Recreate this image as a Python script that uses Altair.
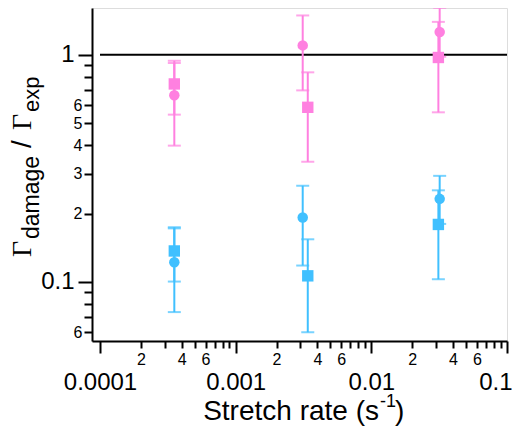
import altair as alt
import pandas as pd

# ---- data ----
rate_circle = [3.53e-4, 3.12e-3, 0.0319]
rate_square = [3.53e-4, 3.40e-3, 0.0312]

pink_circle = [0.663, 1.10, 1.26]
pink_circle_lo = [0.545, 0.697, 0.98]
pink_circle_hi = [0.92, 1.49, 1.61]
pink_square = [0.744, 0.587, 0.973]
pink_square_lo = [0.398, 0.338, 0.558]
pink_square_hi = [0.941, 0.837, 1.396]

blue_circle = [0.122, 0.192, 0.232]
blue_circle_lo = [0.1003, 0.118, 0.18]
blue_circle_hi = [0.172, 0.265, 0.293]
blue_square = [0.1368, 0.1063, 0.179]
blue_square_lo = [0.0736, 0.060, 0.1027]
blue_square_hi = [0.174, 0.154, 0.253]

x_ticks = [m * 10.0 ** e for e in (-4, -3, -2) for m in range(1, 10)] + [0.1]
y_ticks = [0.06, 0.07, 0.08, 0.09, 0.1, 0.2, 0.3, 0.4, 0.5, 0.6, 0.7, 0.8, 0.9, 1.0]
ref_line_x = [1e-4, 0.1]
ref_line_y = [1.0]

PINK = "#FF80E0"
BLUE = "#40C0FF"

rows = []
for color, shape, xs, v, lo, hi in [
    (PINK, "circle", rate_circle, pink_circle, pink_circle_lo, pink_circle_hi),
    (PINK, "square", rate_square, pink_square, pink_square_lo, pink_square_hi),
    (BLUE, "circle", rate_circle, blue_circle, blue_circle_lo, blue_circle_hi),
    (BLUE, "square", rate_square, blue_square, blue_square_lo, blue_square_hi),
]:
    for x, a, b, c in zip(xs, v, lo, hi):
        rows.append({"color": color, "shape": shape, "rate": x, "val": a, "lo": b, "hi": c})
df = pd.DataFrame(rows)

XD = [8.73e-5, 0.1]
YD = [0.0549, 1.607]

major_test = "abs(log(datum.value)/LN10 - round(log(datum.value)/LN10)) < 0.001"
mant = "round(datum.value / pow(10, floor(log(datum.value)/LN10 + 1e-9)))"

x_label_expr = (
    f"({major_test}) ? format(datum.value, '~g') : "
    f"(({mant}) == 2 || ({mant}) == 4 || ({mant}) == 6 ? '' + ({mant}) : '')"
)
y_label_expr = (
    f"({major_test}) ? format(datum.value, '~g') : "
    f"(({mant}) <= 6 ? '' + ({mant}) : '')"
)

x_axis = alt.Axis(
    values=x_ticks, labelExpr=x_label_expr, title=None, grid=False,
    labelFont="Liberation Sans", labelColor="black",
    labelFontSize={"condition": {"test": major_test, "value": 24}, "value": 16},
    tickSize={"condition": {"test": major_test, "value": 12}, "value": 7},
    labelPadding={"condition": {"test": major_test, "value": 17}, "value": 3},
    tickWidth=2, tickColor="black", domainWidth=2, domainColor="black",
    labelFlush=1, labelFlushOffset=5, labelOverlap=False,
)
y_axis = alt.Axis(
    values=y_ticks, labelExpr=y_label_expr, title=None, grid=False,
    labelFont="Liberation Sans", labelColor="black",
    labelFontSize={"condition": {"test": major_test, "value": 24}, "value": 16},
    tickSize={"condition": {"test": major_test, "value": 14}, "value": 8},
    labelPadding={"condition": {"test": major_test, "value": 4}, "value": 2},
    tickWidth=2, tickColor="black", domainWidth=2, domainColor="black",
    labelFlush=False, labelOverlap=False, labelBaseline="middle",
)

xs = alt.Scale(type="log", domain=XD, nice=False)
ys = alt.Scale(type="log", domain=YD, nice=False)

base = alt.Chart(df)

bars = base.mark_rule(strokeWidth=2).encode(
    x=alt.X("rate:Q", scale=xs, axis=x_axis),
    y=alt.Y("lo:Q", scale=ys, axis=y_axis),
    y2="hi:Q",
    color=alt.Color("color:N", scale=None),
)
cap_lo = base.mark_tick(thickness=2, size=13, orient="horizontal").encode(
    x="rate:Q", y="lo:Q", color=alt.Color("color:N", scale=None))
cap_hi = base.mark_tick(thickness=2, size=13, orient="horizontal").encode(
    x="rate:Q", y="hi:Q", color=alt.Color("color:N", scale=None))

circles = base.transform_filter("datum.shape == 'circle'").mark_point(
    shape="circle", filled=True, size=110, opacity=1).encode(
    x="rate:Q", y="val:Q", color=alt.Color("color:N", scale=None))
squares = base.transform_filter("datum.shape == 'square'").mark_point(
    shape="square", filled=True, size=130, opacity=1).encode(
    x="rate:Q", y="val:Q", color=alt.Color("color:N", scale=None))

ref_df = pd.DataFrame({"x1": [ref_line_x[0]], "x2": [ref_line_x[1]], "y": ref_line_y})
ref = alt.Chart(ref_df).mark_rule(color="black", strokeWidth=2).encode(
    x=alt.X("x1:Q", scale=xs), x2="x2:Q", y=alt.Y("y:Q", scale=ys))

one = pd.DataFrame({"a": [0]})


def txt(s, x, y, size, font="Liberation Sans", angle=0, align="left"):
    return alt.Chart(one).mark_text(
        font=font, fontSize=size, angle=angle, align=align,
        baseline="alphabetic", color="black",
    ).encode(x=alt.value(x), y=alt.value(y), text=alt.value(s))


# x title with superscript
xt = [
    txt("Stretch rate (s", 287, 412, 28, align="right"),
    txt("-1", 288, 399, 18),
    txt(")", 303, 412, 28),
]
# y title with subscripts (rotated)
yt = [
    txt("\u0393", -61, 249, 28, font="Liberation Serif", angle=270),
    txt("damage", -53, 231, 23, angle=270),
    txt("/", -61, 140, 28, angle=270),
    txt("\u0393", -61, 122, 28, font="Liberation Serif", angle=270),
    txt("exp", -53, 104, 22, angle=270),
]

chart = alt.layer(ref, bars, cap_lo, cap_hi, squares, circles, *xt, *yt).properties(
    width=415, height=333,
    autosize=alt.AutoSizeParams(type="none"),
    padding={"left": 84, "top": 0, "right": 5, "bottom": 86},
).configure_view(stroke=None).configure(background="white")

chart.save("out.html", embed_options={"renderer": "svg", "actions": False})
